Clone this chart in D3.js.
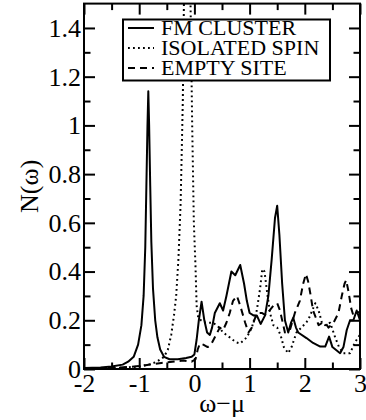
<!DOCTYPE html>
<html>
<head>
<meta charset="utf-8">
<script src="https://cdn.jsdelivr.net/npm/d3@7"></script>
<style>
  html, body { margin: 0; padding: 0; background: #fff; }
  svg { display: block; }
  svg text { font-family: "Liberation Serif", "Times New Roman", serif; fill: #000; }
</style>
</head>
<body>
<div id="chart"></div>
<script>
// Density of states N(ω) versus ω−μ for three local environments.

const fmOmega = [-2.0, -1.7, -1.5, -1.3, -1.2, -1.1, -1.02, -0.96, -0.92, -0.89, -0.87, -0.85, -0.835,
  -0.82, -0.80, -0.78, -0.75, -0.71, -0.67, -0.62, -0.55, -0.45, -0.3, -0.15, -0.05, 0.0, 0.04, 0.08,
  0.13, 0.18, 0.23, 0.28, 0.32, 0.37, 0.46, 0.52, 0.58, 0.67, 0.74, 0.83, 0.9, 0.95, 1.0, 1.07, 1.13,
  1.2, 1.28, 1.34, 1.4, 1.46, 1.50, 1.54, 1.59, 1.64, 1.70, 1.75, 1.79, 1.84, 1.88, 2.03, 2.15, 2.28,
  2.37, 2.44, 2.5, 2.64, 2.70, 2.76, 2.82, 2.88, 2.94, 3.0];
const fmDos = [0.004, 0.006, 0.01, 0.018, 0.03, 0.05, 0.1, 0.18, 0.3, 0.5, 0.75, 1.0, 1.14,
  1.0, 0.75, 0.52, 0.33, 0.2, 0.13, 0.08, 0.05, 0.04, 0.04, 0.045, 0.05, 0.06, 0.12, 0.2,
  0.276, 0.2, 0.15, 0.14, 0.17, 0.23, 0.27, 0.24, 0.3, 0.40, 0.385, 0.427, 0.35, 0.28, 0.23, 0.22, 0.22,
  0.185, 0.22, 0.3, 0.45, 0.62, 0.67, 0.55, 0.35, 0.2, 0.15, 0.19, 0.21, 0.17, 0.15, 0.127, 0.107, 0.092,
  0.092, 0.133, 0.09, 0.065, 0.09, 0.16, 0.2, 0.2, 0.24, 0.2];

const isoOmega = [-2.0, -1.5, -1.0, -0.8, -0.68, -0.55, -0.48, -0.42, -0.37, -0.33, -0.29, -0.25, -0.21,
  -0.19, -0.13, -0.07, -0.04, -0.01, 0.02, 0.04, 0.07, 0.12, 0.2, 0.34, 0.45, 0.52, 0.64, 0.75, 0.83,
  0.95, 1.04, 1.13, 1.19, 1.23, 1.27, 1.32, 1.37, 1.43, 1.5, 1.56, 1.62, 1.70, 1.76, 1.85, 1.94, 2.06,
  2.19, 2.25, 2.31, 2.37, 2.46, 2.55, 2.62, 2.70, 2.82, 2.91, 3.0];
const isoDos = [0.0, 0.003, 0.01, 0.02, 0.03, 0.05, 0.08, 0.14, 0.22, 0.3, 0.45, 0.68, 1.1,
  1.5, 3.0, 1.5, 1.0, 0.6, 0.42, 0.26, 0.21, 0.2, 0.19, 0.19, 0.17, 0.15, 0.13, 0.11, 0.105,
  0.13, 0.17, 0.24, 0.33, 0.41, 0.40, 0.31, 0.23, 0.18, 0.17, 0.14, 0.09, 0.065, 0.09, 0.15, 0.17, 0.2,
  0.27, 0.24, 0.19, 0.18, 0.19, 0.13, 0.09, 0.065, 0.065, 0.11, 0.14];

const emptyOmega = [-2.0, -1.5, -1.2, -1.0, -0.8, -0.6, -0.4, -0.2, -0.05, 0.02, 0.06, 0.10, 0.16, 0.24,
  0.30, 0.37, 0.46, 0.52, 0.58, 0.64, 0.70, 0.77, 0.83, 0.92, 0.98, 1.04, 1.10, 1.16, 1.22, 1.3, 1.36,
  1.43, 1.5, 1.55, 1.6, 1.64, 1.73, 1.82, 1.91, 1.97, 2.02, 2.06, 2.1, 2.15, 2.25, 2.32, 2.37, 2.43,
  2.52, 2.61, 2.67, 2.72, 2.75, 2.79, 2.84, 2.88, 2.94, 3.0];
const emptyDos = [0.003, 0.005, 0.008, 0.012, 0.018, 0.025, 0.03, 0.035, 0.03, 0.04, 0.08, 0.105, 0.1, 0.09,
  0.1, 0.13, 0.17, 0.16, 0.19, 0.23, 0.28, 0.3, 0.26, 0.19, 0.15, 0.17, 0.21, 0.23, 0.23, 0.22, 0.24,
  0.26, 0.27, 0.24, 0.19, 0.15, 0.16, 0.23, 0.28, 0.35, 0.39, 0.36, 0.31, 0.24, 0.18, 0.19, 0.19, 0.17,
  0.19, 0.23, 0.3, 0.35, 0.365, 0.32, 0.25, 0.22, 0.23, 0.235];

const seriesNames = ["FM CLUSTER", "ISOLATED SPIN", "EMPTY SITE"];

const xMajorTicks = [-2, -1, 0, 1, 2, 3];
const xTickLabels = ["-2", "-1", "0", "1", "2", "3"];
const xMinorTicks = [-1.5, -0.5, 0.5, 1.5, 2.5];
const yMajorTicks = [0, 0.2, 0.4, 0.6, 0.8, 1.0, 1.2, 1.4];
const yTickLabels = ["0", "0.2", "0.4", "0.6", "0.8", "1", "1.2", "1.4"];
const yMinorTicks = [0.1, 0.3, 0.5, 0.7, 0.9, 1.1, 1.3];

const SERIF = '"Liberation Serif", "Times New Roman", serif';
const W = 366, H = 420;
const plot = { left: 84, right: 360, top: 3.6, bottom: 369 };

const svg = d3.select("#chart").append("svg")
  .attr("width", W).attr("height", H);

const x = d3.scaleLinear().domain([-2, 3]).range([plot.left, plot.right]);
const y = d3.scaleLinear().domain([0, 1.5]).range([plot.bottom, plot.top]);

svg.append("defs").append("clipPath").attr("id", "plotClip")
  .append("rect")
  .attr("x", plot.left).attr("y", plot.top)
  .attr("width", plot.right - plot.left).attr("height", plot.bottom - plot.top);

// curves
const styles = [
  { dash: null, width: 2 },
  { dash: "1.8,3.2", width: 2 },
  { dash: "7,5", width: 2 }
];
const series = [
  d3.zip(fmOmega, fmDos),
  d3.zip(isoOmega, isoDos),
  d3.zip(emptyOmega, emptyDos)
];
const line = d3.line().x(d => x(d[0])).y(d => y(d[1]));

const curves = svg.append("g").attr("clip-path", "url(#plotClip)");
series.forEach((s, i) => {
  curves.append("path")
    .datum(s)
    .attr("d", line)
    .attr("fill", "none")
    .attr("stroke", "#000")
    .attr("stroke-width", styles[i].width)
    .attr("stroke-linejoin", "round")
    .attr("stroke-dasharray", styles[i].dash);
});

// axes with inward ticks on all four sides
const MAJ = 11, MIN = 6.5;
function styleAxis(g) {
  g.attr("font-family", SERIF).attr("font-size", 26);
  g.select(".domain").remove();
  g.selectAll(".tick line").attr("stroke", "#000").attr("stroke-width", 2);
  g.selectAll(".tick text").attr("fill", "#000")
    .style("font-family", SERIF).style("font-size", "26px");
}

svg.append("g").attr("transform", `translate(0,${plot.bottom})`)
  .call(d3.axisBottom(x).tickValues(xMajorTicks).tickSize(-MAJ).tickPadding(5)
    .tickFormat((d, i) => xTickLabels[i]))
  .call(styleAxis);
svg.append("g").attr("transform", `translate(0,${plot.bottom})`)
  .call(d3.axisBottom(x).tickValues(xMinorTicks).tickSize(-MIN).tickFormat(""))
  .call(styleAxis);
svg.append("g").attr("transform", `translate(0,${plot.top})`)
  .call(d3.axisTop(x).tickValues(xMajorTicks).tickSize(-MAJ).tickFormat(""))
  .call(styleAxis);
svg.append("g").attr("transform", `translate(0,${plot.top})`)
  .call(d3.axisTop(x).tickValues(xMinorTicks).tickSize(-MIN).tickFormat(""))
  .call(styleAxis);

svg.append("g").attr("transform", `translate(${plot.left},0)`)
  .call(d3.axisLeft(y).tickValues(yMajorTicks).tickSize(-MAJ).tickPadding(3)
    .tickFormat((d, i) => yTickLabels[i]))
  .call(styleAxis);
svg.append("g").attr("transform", `translate(${plot.left},0)`)
  .call(d3.axisLeft(y).tickValues(yMinorTicks).tickSize(-MIN).tickFormat(""))
  .call(styleAxis);
svg.append("g").attr("transform", `translate(${plot.right},0)`)
  .call(d3.axisRight(y).tickValues(yMajorTicks).tickSize(-MAJ).tickFormat(""))
  .call(styleAxis);
svg.append("g").attr("transform", `translate(${plot.right},0)`)
  .call(d3.axisRight(y).tickValues(yMinorTicks).tickSize(-MIN).tickFormat(""))
  .call(styleAxis);

// frame
svg.append("rect")
  .attr("x", plot.left).attr("y", plot.top)
  .attr("width", plot.right - plot.left).attr("height", plot.bottom - plot.top)
  .attr("fill", "none").attr("stroke", "#000").attr("stroke-width", 2);

// axis titles
svg.append("text")
  .attr("x", (plot.left + plot.right) / 2).attr("y", 412)
  .attr("text-anchor", "middle")
  .style("font-family", SERIF).style("font-size", "26px")
  .text("ω−μ");
svg.append("text")
  .attr("transform", `translate(38,${(plot.top + plot.bottom) / 2}) rotate(-90)`)
  .attr("text-anchor", "middle")
  .style("font-family", SERIF).style("font-size", "26px")
  .text("N(ω)");

// legend
const legend = svg.append("g");
legend.append("rect")
  .attr("x", 123).attr("y", 19.5).attr("width", 207).attr("height", 61)
  .attr("fill", "#fff").attr("stroke", "#000").attr("stroke-width", 2);
seriesNames.forEach((name, i) => {
  const base = 35 + i * 20;
  legend.append("line")
    .attr("x1", 128).attr("x2", 154)
    .attr("y1", base - 7).attr("y2", base - 7)
    .attr("stroke", "#000").attr("stroke-width", 2)
    .attr("stroke-dasharray", styles[i].dash);
  legend.append("text")
    .attr("x", 161).attr("y", base)
    .style("font-family", SERIF).style("font-size", "22px")
    .text(name);
});
</script>
</body>
</html>
